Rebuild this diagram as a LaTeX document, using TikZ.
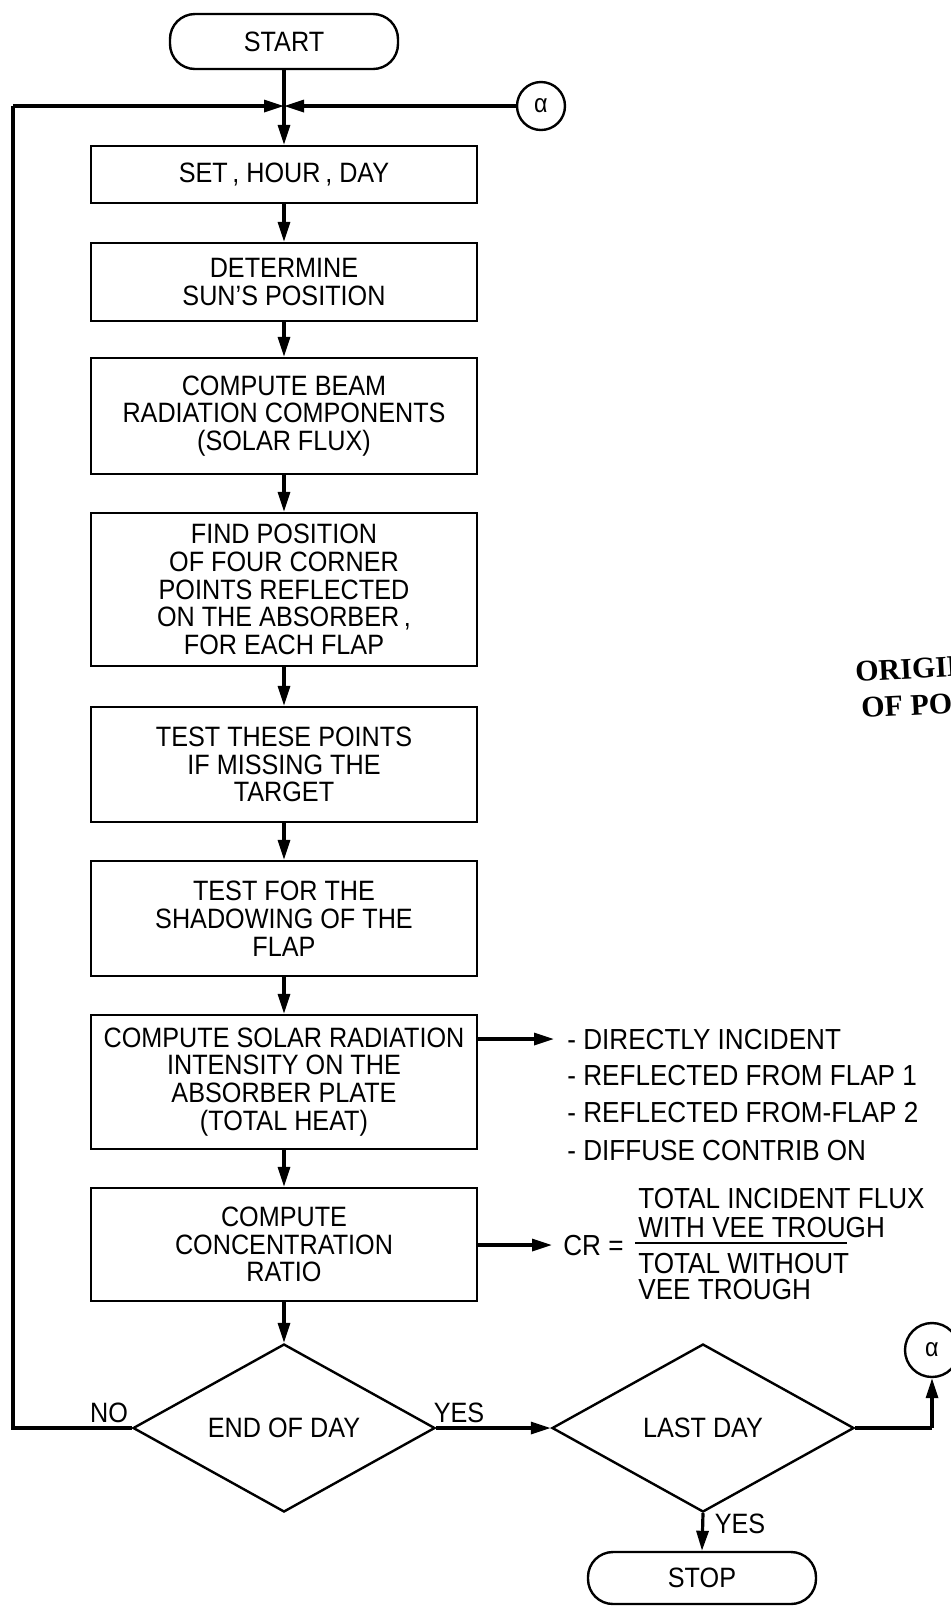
\documentclass[tikz,border=0pt]{standalone}
\usepackage{fontspec}
\setmainfont[FakeStretch=0.9]{Liberation Sans}
\newfontfamily\stampfont{Liberation Serif}
\usetikzlibrary{arrows.meta,shapes.geometric}
\begin{document}
\begin{tikzpicture}[x=0.5pt,y=-0.5pt,
  txt/.style={font=\fontsize{14}{13.9}\selectfont},
  box/.style={txt,draw,line width=1.2pt,rectangle,minimum width=193pt,inner sep=0pt,align=center},
  term/.style={txt,draw,line width=1.2pt,rounded corners=12.5pt,minimum width=114pt,inner sep=0pt},
  dec/.style={txt,draw,line width=1.2pt,diamond,aspect=1.78,minimum width=151pt,minimum height=84pt,inner sep=0pt},
  conn/.style={draw,line width=1.2pt,circle,inner sep=0pt,font=\fontsize{13}{13}\selectfont},
  flow/.style={line width=1.6pt,-{Triangle[length=10pt,width=6pt]}},
  plain/.style={line width=1.6pt},
  side/.style={anchor=west,inner sep=0pt,font=\fontsize{14.5}{14}\selectfont},
  lbl/.style={inner sep=0pt,txt},
  stamp/.style={anchor=west,inner sep=0pt,rotate=3,font=\stampfont\bfseries\fontsize{15}{16}\selectfont}]
\useasboundingbox (0,0) rectangle (951,1608);
\fill[white] (0,0) rectangle (951,1608);

% main column
\node[term,minimum height=27.5pt] (start) at (284,41.5) {START};
\coordinate (junc) at (284,106);
\node[conn,minimum size=24pt] (alphaT) at (541,106) {α};
\node[box,minimum height=28.5pt] (set) at (284,174.5) {SET\,, HOUR\,, DAY};
\node[box,minimum height=39pt] (sun) at (284,282) {DETERMINE\\SUN'S POSITION};
\node[box,minimum height=58pt] (beam) at (284,416) {COMPUTE BEAM\\RADIATION COMPONENTS\\(SOLAR FLUX)};
\node[box,minimum height=76.5pt] (find) at (284,589.5) {FIND POSITION\\OF FOUR CORNER\\POINTS REFLECTED\\ON THE ABSORBER\,,\\FOR EACH FLAP};
\node[box,minimum height=57.5pt] (testpts) at (284,764.5) {TEST THESE POINTS\\IF MISSING THE\\TARGET};
\node[box,minimum height=57.5pt] (shadow) at (284,918.5) {TEST FOR THE\\SHADOWING OF THE\\FLAP};
\node[box,minimum height=67pt] (solar) at (284,1082) {COMPUTE SOLAR RADIATION\\INTENSITY ON THE\\ABSORBER PLATE\\(TOTAL HEAT)};
\node[box,minimum height=56.5pt] (conc) at (284,1244.5) {COMPUTE\\CONCENTRATION\\RATIO};
\node[dec] (endday) at (284,1428) {END OF DAY};
\node[dec] (lastday) at (703,1428) {LAST DAY};
\node[term,minimum height=26pt] (stop) at (702,1578) {STOP};
\node[conn,minimum size=27pt] (alphaB) at (932,1350) {α};

% labels
\node[lbl] (no) at (109,1413) {NO};
\node[lbl] (yes1) at (459,1413) {YES};
\node[lbl] (yes2) at (740,1524) {YES};

% side outputs
\coordinate (sa) at (554,1039);
\node[side] (s1) at (567,1039) {- DIRECTLY INCIDENT};
\node[side] (s2) at (567,1075) {- REFLECTED FROM FLAP 1};
\node[side] (s3) at (567,1112) {- REFLECTED FROM-FLAP 2};
\node[side] (s4) at (567,1150) {- DIFFUSE CONTRIB ON};
\coordinate (ca) at (552,1245);
\node[side] (cr) at (563,1245) {CR =};
\node[side] (f1) at (638,1198) {TOTAL INCIDENT FLUX};
\node[side] (f2) at (638,1227) {WITH VEE TROUGH};
\node[side] (f3) at (638,1263) {TOTAL WITHOUT};
\node[side] (f4) at (638,1289) {VEE TROUGH};
\coordinate (ruleL) at (635,1243);
\coordinate (ruleR) at (847,1243);
\draw[line width=1pt] (ruleL) -- (ruleR);

% stamp (cut by the page edge, as in the original)
\node[stamp] (st1) at (855,672) {ORIGIN};
\node[stamp] (st2) at (861,708) {OF PO};

% connectors
\draw[plain] (start.south) -- (junc);
\draw[flow] (junc) -- (set.north);
\draw[flow] (alphaT.west) -- (junc);
\coordinate (ll) at (13,1428);
\coordinate (lt) at (13,106);
\draw[plain] (endday.west) -- (ll) -- (lt);
\draw[flow] (lt) -- (junc);
\draw[flow] (set.south) -- (sun.north);
\draw[flow] (sun.south) -- (beam.north);
\draw[flow] (beam.south) -- (find.north);
\draw[flow] (find.south) -- (testpts.north);
\draw[flow] (testpts.south) -- (shadow.north);
\draw[flow] (shadow.south) -- (solar.north);
\draw[flow] (solar.south) -- (conc.north);
\draw[flow] (conc.south) -- (endday.north);
\draw[flow] (solar.east |- sa) -- (sa);
\draw[flow] (conc.east |- ca) -- (ca);
\draw[flow] (endday.east) -- (lastday.west);
\draw[flow] (lastday.south) -- (stop.north);
\coordinate (rc) at (932,1428);
\draw[plain] (lastday.east) -- (rc);
\draw[flow] (rc) -- (alphaB.south);
\end{tikzpicture}
\end{document}
